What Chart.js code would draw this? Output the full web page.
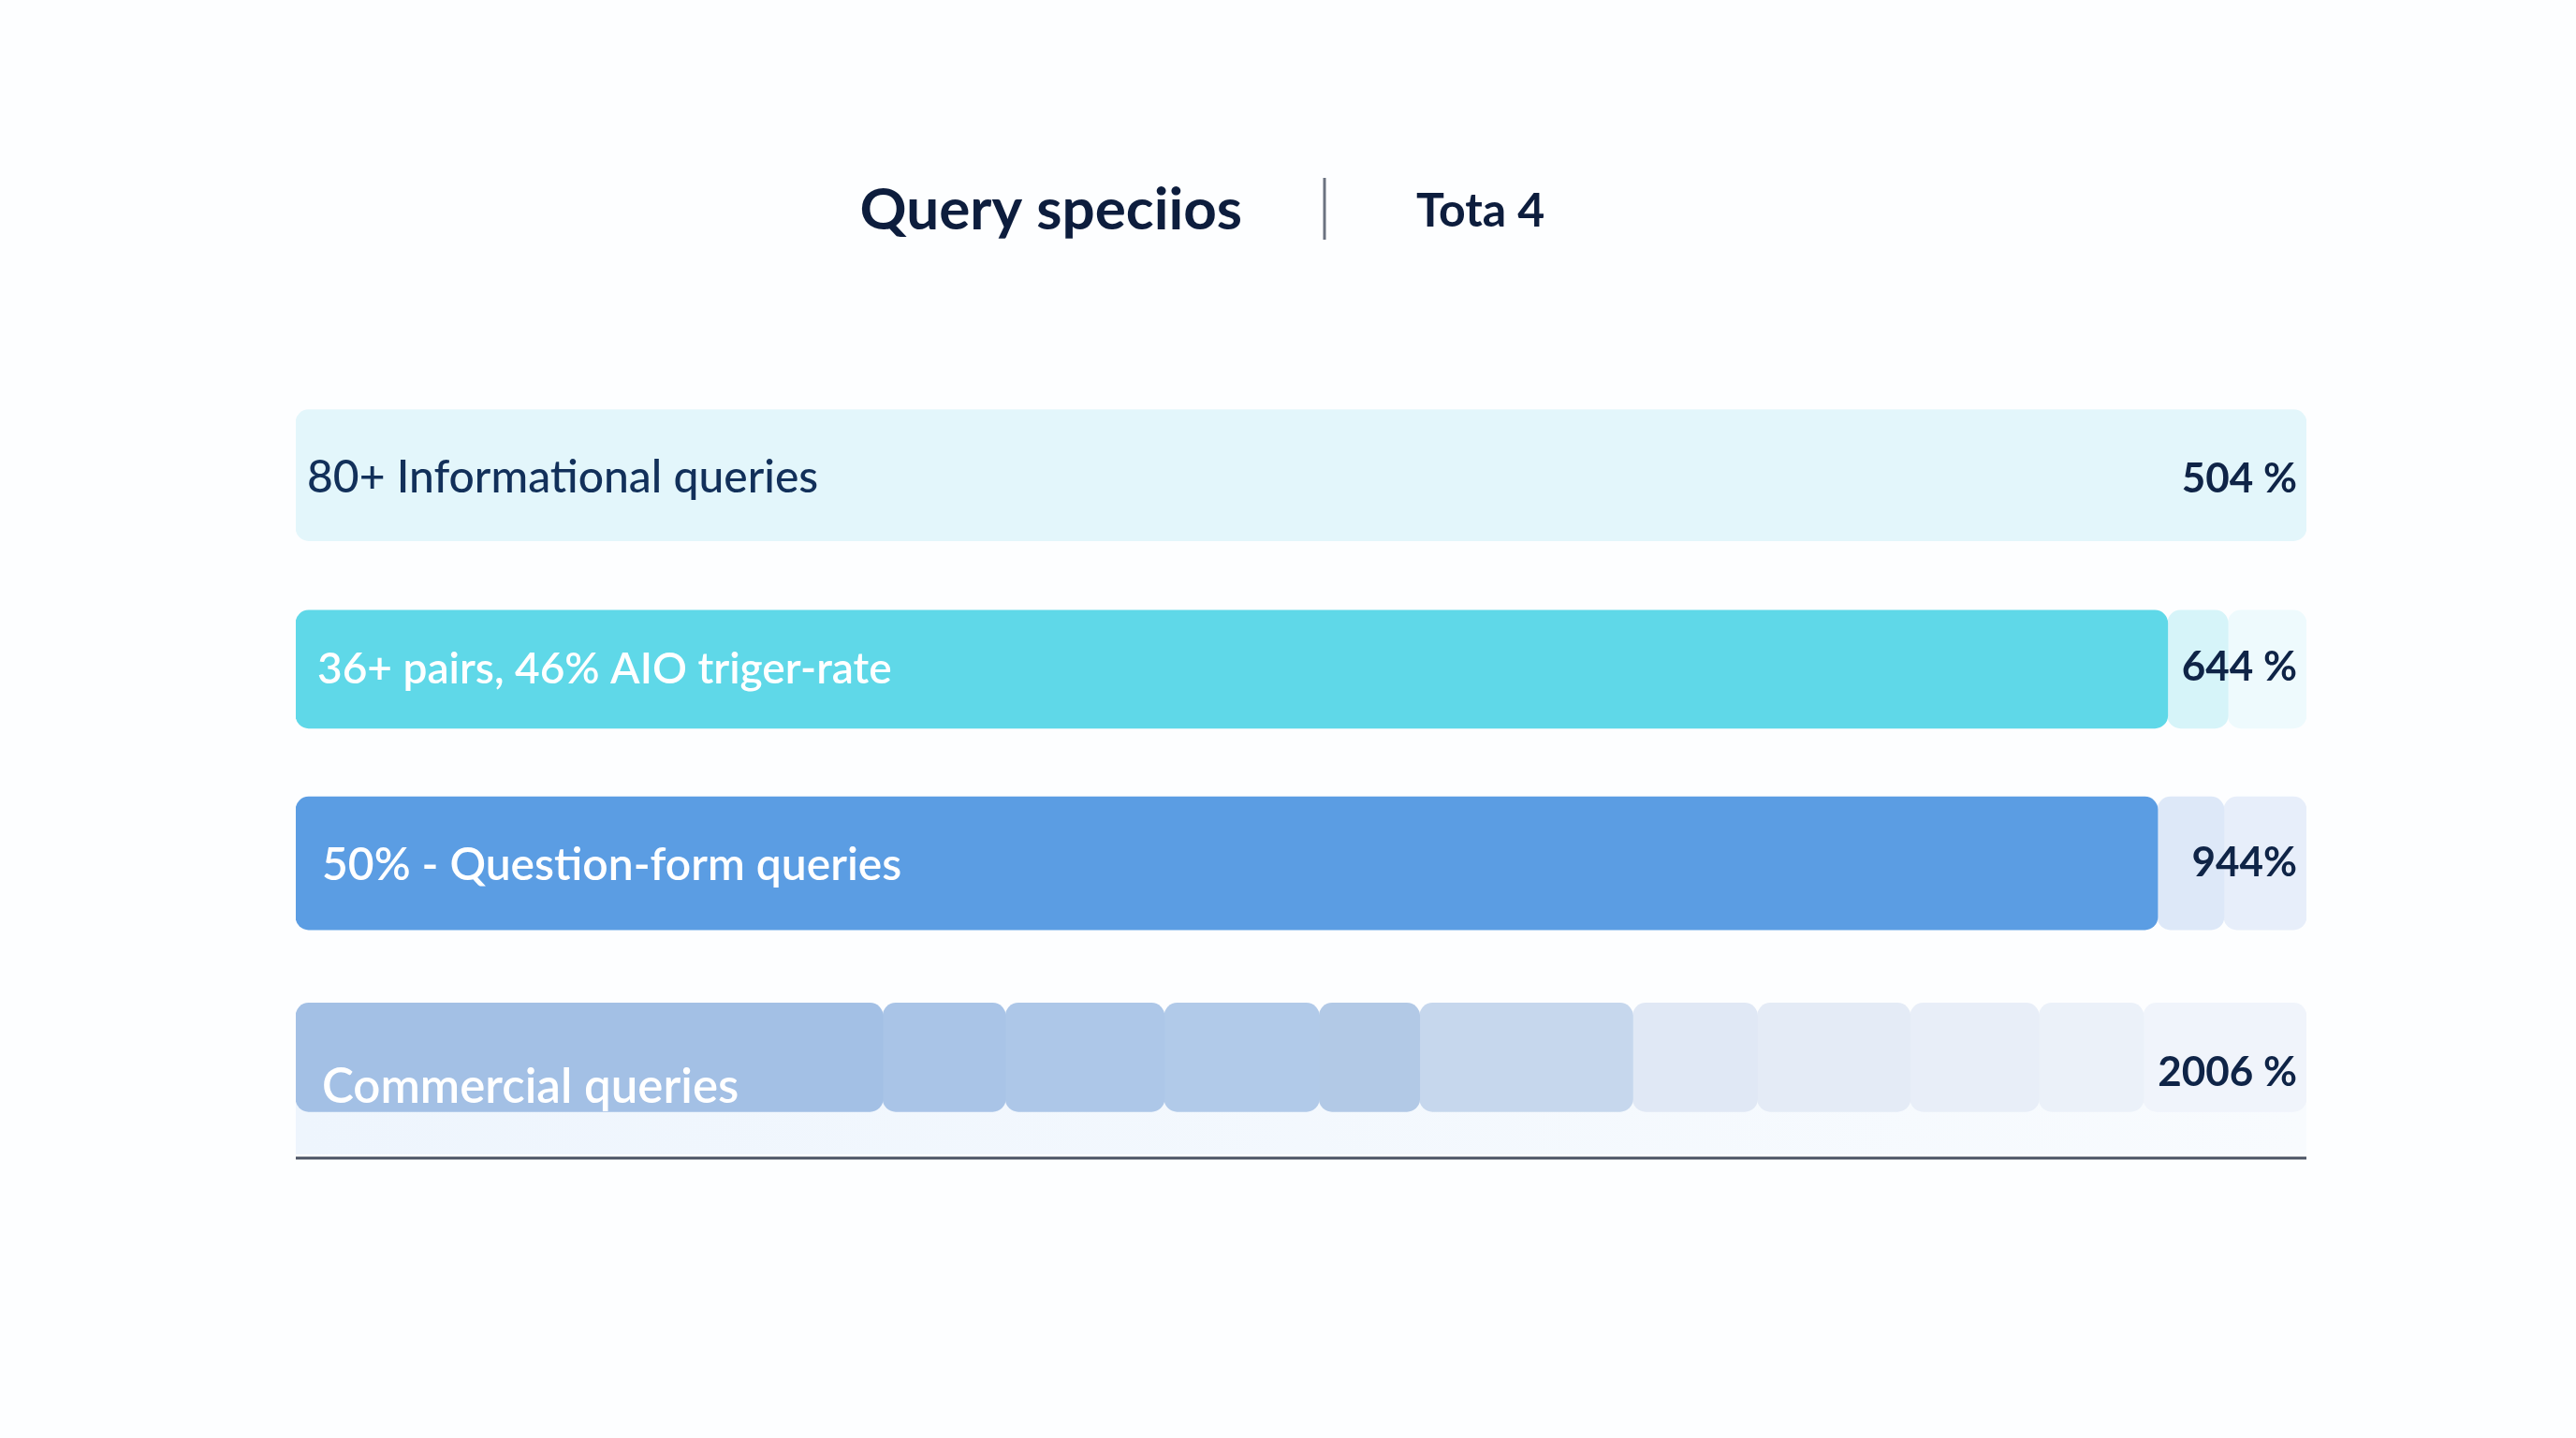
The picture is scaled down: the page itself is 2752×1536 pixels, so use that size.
<!DOCTYPE html>
<html>
<head>
<meta charset="utf-8">
<script src="https://cdn.jsdelivr.net/npm/chart.js@4.4.1/dist/chart.umd.min.js"></script>
<style>
  html, body { margin: 0; padding: 0; background: #fdfeff; }
  #wrap { width: 2752px; height: 1536px; }
</style>
</head>
<body>
<div id="wrap"><canvas id="queryChart" width="2752" height="1536"></canvas></div>
<script>
// data
const categories = ['80+ Informational queries', '36+ pairs, 46% AIO triger-rate', '50% - Question-form queries', 'Commercial queries'];
const valueLabels = ['504 %', '644 %', '944%', '2006 %'];
const informational = [100];
const pairs = [93.1, 3.0, 3.9];
const questionForm = [92.6, 3.3, 4.1];
const commercial = [29.2, 6.1, 7.9, 7.7, 5.0, 10.6, 6.2, 7.6, 6.4, 5.2, 8.1];
const titleText = 'Query speciios';
const totalText = 'Tota 4';

// styles
const rowColors = [
    ['#e3f6fb'],
    ['#5fd8e8', '#d6f4f9', '#eefafd'],
    ['#5b9de3', '#dde8f8', '#e7eefa'],
    ['#a3c0e5', '#a9c4e7', '#adc7e8', '#b1cae9', '#b2c9e6', '#c6d7ed', '#e0e8f5', '#e4ebf6', '#e8eef8', '#ebf1f9', '#f0f4fb']
];
const rowThickness = [140, 126, 142, 116];
const labelColors = ['#12305a', '#ffffff', '#ffffff', '#ffffff'];
const labelFonts = ['500 48px', '600 46px', '600 48px', '600 51px'];
const labelOffsetY = [3, 0, 2, 32];
const labelPadX = [12, 23, 28, 28];
const valueOffsetY = [4, -2, 0, 16];

const rows = [informational, pairs, questionForm, commercial];
const datasets = [];
rows.forEach((segs, r) => {
    segs.forEach((v, s) => {
        datasets.push({
            label: categories[r] + ' ' + (s + 1),
            data: categories.map((_, i) => (i === r ? v : null)),
            backgroundColor: rowColors[r][s],
            borderWidth: 0,
            borderSkipped: false,
            borderRadius: { topLeft: 14, topRight: 14, bottomLeft: 14, bottomRight: 14 },
            barThickness: rowThickness[r],
            stack: 'rows'
        });
    });
});

const rowText = {
    id: 'rowText',
    beforeDatasetsDraw(chart) {
        const ctx = chart.ctx;
        const area = chart.chartArea;
        const y = chart.scales.y;
        // pale strip under the commercial row
        const last = categories.length - 1;
        const yc = y.getPixelForValue(last);
        const top = yc + rowThickness[last] / 2 - 10;
        const g = ctx.createLinearGradient(area.left, 0, area.right, 0);
        g.addColorStop(0, '#eef5fd');
        g.addColorStop(1, '#f8fbfe');
        ctx.save();
        ctx.fillStyle = g;
        ctx.fillRect(area.left, top, area.right - area.left, area.bottom - top);
        ctx.restore();
    },
    afterDatasetsDraw(chart) {
        const ctx = chart.ctx;
        const area = chart.chartArea;
        const y = chart.scales.y;
        ctx.save();
        ctx.textBaseline = 'middle';
        categories.forEach((name, i) => {
            const yc = y.getPixelForValue(i);
            ctx.font = labelFonts[i] + ' Lato, "Open Sans", sans-serif';
            ctx.fillStyle = labelColors[i];
            ctx.textAlign = 'left';
            ctx.fillText(name, area.left + labelPadX[i], yc + labelOffsetY[i]);
            ctx.font = '700 44px Lato, "Open Sans", sans-serif';
            ctx.fillStyle = '#0f2447';
            ctx.textAlign = 'right';
            ctx.fillText(valueLabels[i], area.right - 10, yc + valueOffsetY[i]);
        });
        // baseline
        ctx.strokeStyle = '#4a5263';
        ctx.lineWidth = 3;
        ctx.beginPath();
        ctx.moveTo(area.left, area.bottom + 4);
        ctx.lineTo(area.right, area.bottom + 4);
        ctx.stroke();
        ctx.restore();
    }
};

const header = {
    id: 'header',
    beforeDraw(chart) {
        const ctx = chart.ctx;
        const area = chart.chartArea;
        const mid = (area.left + area.right) / 2 + 25;
        ctx.save();
        ctx.fillStyle = '#fdfeff';
        ctx.fillRect(0, 0, chart.width, chart.height);
        ctx.fillStyle = '#0d1d3d';
        ctx.textBaseline = 'alphabetic';
        ctx.font = '700 62px Lato, "Open Sans", sans-serif';
        ctx.textAlign = 'right';
        ctx.fillText(titleText, mid - 88, 245);
        ctx.font = '700 50px Lato, "Open Sans", sans-serif';
        ctx.textAlign = 'left';
        ctx.fillText(totalText, mid + 98, 242);
        ctx.strokeStyle = '#6b7280';
        ctx.lineWidth = 3;
        ctx.beginPath();
        ctx.moveTo(mid, 190);
        ctx.lineTo(mid, 256);
        ctx.stroke();
        ctx.restore();
    }
};

new Chart(document.getElementById('queryChart'), {
    type: 'bar',
    data: { labels: categories, datasets: datasets },
    options: {
        indexAxis: 'y',
        responsive: false,
        animation: false,
        devicePixelRatio: 1,
        layout: { padding: { left: 316, right: 288, top: 404, bottom: 303 } },
        plugins: {
            legend: { display: false },
            tooltip: { enabled: false }
        },
        scales: {
            x: { stacked: true, min: 0, max: 100, display: false },
            y: { stacked: true, display: false }
        }
    },
    plugins: [header, rowText]
});
</script>
</body>
</html>
